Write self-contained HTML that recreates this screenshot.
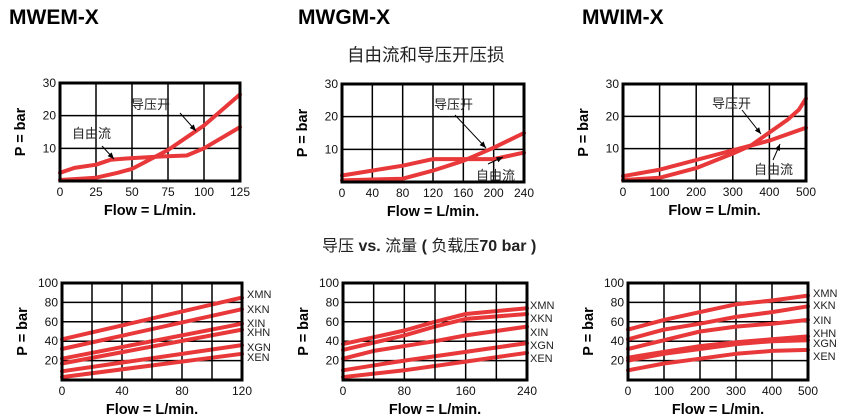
<!DOCTYPE html>
<html><head><meta charset="utf-8"><style>
html,body{margin:0;padding:0;background:#fff;}
svg{display:block}
</style></head><body>
<svg id="s" width="845" height="416" xmlns="http://www.w3.org/2000/svg" font-family="Liberation Sans, Noto Sans CJK SC, sans-serif">
<text x="9" y="24" font-size="21" font-weight="bold">MWEM-X</text>
<text x="298" y="24" font-size="21" font-weight="bold">MWGM-X</text>
<text x="582" y="24" font-size="21" font-weight="bold">MWIM-X</text>
<text x="347" y="61" font-size="17.5" fill="#222" font-family="Noto Sans CJK SC, sans-serif">自由流和导压开压损</text>
<text x="322" y="251" font-size="16" fill="#222" font-family="Liberation Sans, Noto Sans CJK SC, sans-serif">导压 <tspan font-weight="bold">vs.</tspan> 流量 <tspan font-weight="bold">(</tspan> 负载压<tspan font-weight="bold">70 bar )</tspan></text>
</svg>
<script>
var s=document.getElementById('s'),NS='http://www.w3.org/2000/svg';
function el(t,a,txt){var e=document.createElementNS(NS,t);for(var k in a)e.setAttribute(k,a[k]);if(txt)e.textContent=txt;s.appendChild(e);return e;}
function chart(c){
 var X=function(v){return c.x0+(c.x1-c.x0)*v/c.xmax},Y=function(v){return c.y1-(c.y1-c.y0)*v/c.ymax};
 c.xt.forEach(function(v){var x=X(v);el('line',{x1:x,x2:x,y1:c.y0,y2:c.y1,stroke:'#000','stroke-width':1.5});
  el('text',{x:x,y:c.y1+15,'font-size':12,'text-anchor':'middle',fill:'#111'},String(v));});
 c.yt.forEach(function(v){var y=Y(v);el('line',{x1:c.x0,x2:c.x1,y1:y,y2:y,stroke:'#000','stroke-width':1.5});
  el('text',{x:c.x0-4,y:y+4,'font-size':12,'text-anchor':'end',fill:'#111'},String(v));});
 c.series.forEach(function(p){var d=p.map(function(q,i){return (i?'L':'M')+X(q[0]).toFixed(1)+' '+Y(q[1]).toFixed(1)}).join(' ');
  el('path',{d:d,fill:'none',stroke:'#e8383a','stroke-width':4,'stroke-linejoin':'round','stroke-linecap':'round'});});
 el('rect',{x:c.x0,y:c.y0,width:c.x1-c.x0,height:c.y1-c.y0,fill:'none',stroke:'#000','stroke-width':3});
 var cx=(c.x0+c.x1)/2;
 el('text',{x:cx,y:c.y1+34,'font-size':14.5,'font-weight':'bold','text-anchor':'middle'},'Flow = L/min.');
 var py=(c.y0+c.y1)/2;
 el('text',{x:0,y:0,'font-size':14.5,'font-weight':'bold','text-anchor':'middle',transform:'translate('+(c.x0-35)+','+py+') rotate(-90)'},'P = bar');
 (c.labels||[]).forEach(function(l){el('text',{x:l[0],y:l[1],'font-size':l[3]||12,fill:'#222'},l[2]);});
 (c.arrows||[]).forEach(function(a){el('line',{x1:a[0],y1:a[1],x2:a[2],y2:a[3],stroke:'#000','stroke-width':1});
  var ang=Math.atan2(a[3]-a[1],a[2]-a[0]),L=7,w=0.4;
  el('path',{d:'M'+a[2]+' '+a[3]+' L'+(a[2]-L*Math.cos(ang-w))+' '+(a[3]-L*Math.sin(ang-w))+' L'+(a[2]-L*Math.cos(ang+w))+' '+(a[3]-L*Math.sin(ang+w))+'Z',fill:'#000'});});
}
var cj='Noto Sans CJK SC';
chart({x0:60,x1:240,y0:83,y1:181,xmax:125,ymax:30,xt:[0,25,50,75,100,125],yt:[10,20,30],
 series:[[[0,2.5],[10,4],[25,5],[35,6.5],[50,7],[70,7.5],[88,7.8],[100,10],[125,16.5]],
  [[0,0.3],[25,1],[40,2.5],[50,3.7],[60,6],[75,9.5],[90,14],[100,17],[125,26.5]]],
 labels:[[131,109,'导压开',13],[72,138,'自由流',13]],arrows:[[180,113,196,131],[102,146,114,159]]});
chart({x0:342,x1:524,y0:84,y1:182,xmax:240,ymax:30,xt:[0,40,80,120,160,200,240],yt:[10,20,30],
 series:[[[0,2],[40,3.5],[80,5],[120,7],[160,7],[200,7],[240,9]],
  [[0,0.5],[80,1],[120,3.5],[160,6.5],[200,10.5],[240,15]]],
 labels:[[434,109,'导压开',13],[476,180,'自由流',13]],arrows:[[455,115,486,148],[488,164,503,157]]});
chart({x0:623,x1:806,y0:84,y1:181,xmax:500,ymax:30,xt:[0,100,200,300,400,500],yt:[10,20,30],
 series:[[[0,1.5],[100,3.5],[200,6.5],[300,9.5],[400,12.5],[500,16.5]],
  [[0,0.3],[100,1],[200,4],[300,8.5],[350,11],[400,15],[450,19],[480,22],[500,25.5]]],
 labels:[[712,108,'导压开',13],[754,174,'自由流',13]],arrows:[[742,110,761,134],[773,160,780,144]]});
chart({x0:62,x1:242,y0:283,y1:380,xmax:120,ymax:100,xt:[0,40,80,120],yt:[20,40,60,80,100],
 series:[[[0,42],[120,85]],[[0,32],[120,73]],[[0,22],[120,58]],[[0,17],[120,52]],[[0,9],[120,36]],[[0,3],[120,27]]],
 labels:[[247,298,'XMN',11],[247,313,'XKN',11],[247,327,'XIN',11],[247,336,'XHN',11],[247,351,'XGN',11],[247,361,'XEN',11]]});
// extra grid lines at 20,60,100 for chart 4
(function(){[20,60,100].forEach(function(v){var x=62+180*v/120;el('line',{x1:x,x2:x,y1:283,y2:380,stroke:'#000','stroke-width':1.5});});})();
chart({x0:343,x1:527,y0:283,y1:380,xmax:240,ymax:100,xt:[0,80,160,240],yt:[20,40,60,80,100],
 series:[[[0,37],[80,51],[120,60],[160,68],[240,74]],[[0,31],[80,46],[120,55],[160,63],[240,68]],[[0,22],[40,30],[120,40],[160,46],[240,55]],[[0,10],[80,20],[160,29],[240,38]],[[0,3],[80,10],[160,19],[240,28]]],
 labels:[[530,309,'XMN',11],[530,322,'XKN',11],[530,336,'XIN',11],[530,349,'XGN',11],[530,362,'XEN',11]]});
(function(){[40,120,200].forEach(function(v){var x=343+184*v/240;el('line',{x1:x,x2:x,y1:283,y2:380,stroke:'#000','stroke-width':1.5});});})();
chart({x0:628,x1:808,y0:283,y1:380,xmax:500,ymax:100,xt:[0,100,200,300,400,500],yt:[20,40,60,80,100],
 series:[[[0,52],[100,62],[200,70],[300,78],[400,82],[500,87]],[[0,42],[100,52],[200,58],[300,65],[400,70],[500,76]],[[0,32],[100,41],[200,50],[300,55],[400,58],[500,62]],[[0,23],[100,29],[200,35],[300,39],[400,42],[500,45]],[[0,20],[100,27],[200,32],[300,37],[400,40],[500,41]],[[0,10],[100,17],[200,22],[300,27],[400,30],[500,31]]],
 labels:[[813,297,'XMN',11],[813,309,'XKN',11],[813,324,'XIN',11],[813,337,'XHN',11],[813,347,'XGN',11],[813,360,'XEN',11]]});
</script>
</body></html>
